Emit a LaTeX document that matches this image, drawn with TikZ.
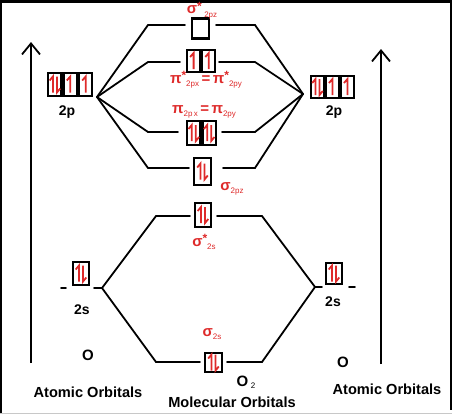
\documentclass[tikz,border=0pt]{standalone}
\usepackage{fontspec}
\setmainfont{Liberation Sans}
\usepackage{tikz}
\usetikzlibrary{
  arrows.meta,
  positioning
}
\definecolor{spinred}{HTML}{DE2A2A}
\definecolor{framegray}{HTML}{C8C8C8}
\newcommand{\orbsub}[1]{\raisebox{-0.4ex}{\fontsize{8}{8}\selectfont\mdseries #1}}
\newcommand{\orbstar}{\raisebox{0.45ex}{\fontsize{12}{12}\selectfont *}}
\tikzset{
  orbital/.style={
    rectangle, draw=black, line width=2.2pt,
    minimum width=16pt, minimum height=23pt, inner sep=0pt
  },
  pbox/.style={orbital, minimum width=13.2pt},
  level/.style={line width=1.8pt, line cap=round},
  spin/.style={draw=spinred, line width=1.8pt},
  axis/.style={-{Straight Barb[length=11pt, width=18pt]}, line width=1.8pt},
  molabel/.style={text=spinred, font=\fontsize{15}{15}\selectfont\bfseries, inner sep=0pt},
  aolabel/.style={font=\fontsize{14}{16}\selectfont\bfseries, inner sep=0pt},
  elecup/.pic={\draw[spin] (0,8) -- (0,-8) -- (-3.5,-4);},
  elecpair/.pic={
    \draw[spin] (-2,8) -- (-2,-8) -- (-5.3,-4);
    \draw[spin] (2,-8) -- (2,8) -- (5.3,4);
  },
}

\begin{document}
\begin{tikzpicture}[
  x=1pt, y=-1pt,
  atom/.style={font=\fontsize{15}{15}\selectfont\bfseries, inner sep=0pt},
  heading/.style={font=\fontsize{14.6}{16}\selectfont\bfseries, inner sep=0pt},
]
\useasboundingbox (0,0) rectangle (452,418);

% Frame
\draw[line width=3pt] (0,1.5) -- (452,1.5);
\draw[line width=2pt] (1,0) -- (1,413);
\draw[line width=2pt] (451,0) -- (451,410);
\draw[framegray, line width=1.5pt] (0,413.5) -- (452,413.5);

% Energy axes
\coordinate (laxbot) at (31,363);
\coordinate (laxtop) at (31,42);
\coordinate (raxbot) at (381,364);
\coordinate (raxtop) at (381,49);
\draw[axis] (laxbot) -- (laxtop);
\draw[axis] (raxbot) -- (raxtop);

% Atomic 2p
\node[pbox] (lpA) at (54.9,84.5) {};
\node[pbox, right=0pt of lpA] (lpB) {};
\node[pbox, right=0pt of lpB] (lpC) {};
\node[pbox, minimum width=12.8pt, minimum height=22pt] (rpA) at (317.5,87) {};
\node[pbox, minimum width=12.8pt, minimum height=22pt, right=0pt of rpA] (rpB) {};
\node[pbox, minimum width=12.8pt, minimum height=22pt, right=0pt of rpB] (rpC) {};
\pic at (lpA) {elecpair};
\pic at (lpB) {elecup};
\pic at (lpC) {elecup};
\pic at (rpA) {elecpair};
\pic at (rpB) {elecup};
\pic at (rpC) {elecup};
\node[aolabel] (l2p) at (67,112) {2p};
\node[aolabel] (r2p) at (334,112) {2p};

% Molecular orbitals from 2p
\node[orbital, minimum width=17pt, minimum height=20pt] (sigstarpz) at (200.5,28.5) {};
\node[pbox, minimum width=13pt, minimum height=22pt] (pistarA) at (193.6,61) {};
\node[pbox, minimum width=13pt, minimum height=22pt, right=0pt of pistarA] (pistarB) {};
\node[pbox, minimum height=24pt] (piA) at (193.8,133) {};
\node[pbox, minimum height=24pt, right=0pt of piA] (piB) {};
\node[orbital, minimum width=17pt, minimum height=27pt] (sigpz) at (202.5,171.5) {};
\pic at (pistarA) {elecup};
\pic at (pistarB) {elecup};
\pic at (piA) {elecpair};
\pic at (piB) {elecpair};
\pic at (sigpz) {elecpair};

\node[molabel] (lsigstarpz) at (202,10.5) {σ\orbstar\,\orbsub{2pz}};
\node[molabel] (lpistar) at (206,80) {π\orbstar\orbsub{2px}\,=\,π\orbstar\orbsub{2py}};
\node[molabel] (lpi) at (204,112) {π\orbsub{2p\,x}\,=\,π\orbsub{2py}};
\node[molabel] (lsigpz) at (232,189) {σ\orbsub{2pz}};

% Level ends (2p)
\coordinate (lpfan) at (97,97);
\coordinate (rpfan) at (303,94);
\coordinate (sspzL) at (148,25);  \coordinate (sspzLi) at (185,25);
\coordinate (sspzRi) at (216,25); \coordinate (sspzR) at (255,25);
\coordinate (pistL) at (148,62);  \coordinate (pistLi) at (180,62);
\coordinate (pistRi) at (219,62); \coordinate (pistR) at (255,62);
\coordinate (piL) at (148,132);   \coordinate (piLi) at (178,132);
\coordinate (piRi) at (222,132);  \coordinate (piR) at (255,132);
\coordinate (spzL) at (148,168);  \coordinate (spzLi) at (189,168);
\coordinate (spzRi) at (223,168); \coordinate (spzR) at (255,168);

\draw[level] (lpfan) -- (sspzL) -- (sspzLi);
\draw[level] (lpfan) -- (pistL) -- (pistLi);
\draw[level] (lpfan) -- (piL) -- (piLi);
\draw[level] (lpfan) -- (spzL) -- (spzLi);
\draw[level] (sspzRi) -- (sspzR) -- (rpfan);
\draw[level] (pistRi) -- (pistR) -- (rpfan);
\draw[level] (piRi) -- (piR) -- (rpfan);
\draw[level] (spzRi) -- (spzR) -- (rpfan);

% Atomic 2s and molecular orbitals from 2s
\node[orbital] (ls) at (81,273.5) {};
\node[orbital, minimum height=21pt] (rs) at (334,273.5) {};
\node[orbital, minimum height=24pt] (sigstars) at (203,215) {};
\node[orbital, minimum width=17pt, minimum height=19pt] (sigs) at (213.5,362.5) {};
\pic at (ls) {elecpair};
\pic at (rs) {elecpair};
\pic at (sigstars) {elecpair};
\pic at (sigs) {elecpair};
\node[aolabel] (l2s) at (82,310) {2s};
\node[aolabel] (r2s) at (333,302) {2s};
\node[molabel] (lsigstars) at (204,242) {σ\orbstar\orbsub{2s}};
\node[molabel] (lsigs) at (212,334) {σ\orbsub{2s}};

% Level ends (2s)
\coordinate (lsdashA) at (61,288); \coordinate (lsdashB) at (66,288);
\coordinate (lsR) at (94,288);     \coordinate (lsfan) at (102,288);
\coordinate (rsfan) at (315,287);  \coordinate (rsL) at (322,287);
\coordinate (rsdashA) at (349,287); \coordinate (rsdashB) at (355,287);
\coordinate (ssL) at (156,216);    \coordinate (ssLi) at (190,216);
\coordinate (ssRi) at (217,216);   \coordinate (ssR) at (262,216);
\coordinate (sL) at (156,362);     \coordinate (sLi) at (200,362);
\coordinate (sRi) at (227,362);    \coordinate (sR) at (262,362);

\draw[level] (lsdashA) -- (lsdashB);
\draw[level] (lsR) -- (lsfan);
\draw[level] (ssLi) -- (ssL) -- (lsfan) -- (sL) -- (sLi);
\draw[level] (rsfan) -- (rsL);
\draw[level] (rsdashA) -- (rsdashB);
\draw[level] (ssRi) -- (ssR) -- (rsfan) -- (sR) -- (sRi);

% Atoms and headings
\node[atom] (lO) at (88,355) {O};
\node[atom] (rO) at (343,362) {O};
\node[atom] (mO) at (246,382) {O\,\raisebox{-0.3ex}{\fontsize{8}{8}\selectfont\mdseries 2}};
\node[heading] (ltitle) at (88,392) {Atomic Orbitals};
\node[heading] (rtitle) at (387,389) {Atomic Orbitals};
\node[heading] (mtitle) at (232,402) {Molecular Orbitals};

\end{tikzpicture}
\end{document}
